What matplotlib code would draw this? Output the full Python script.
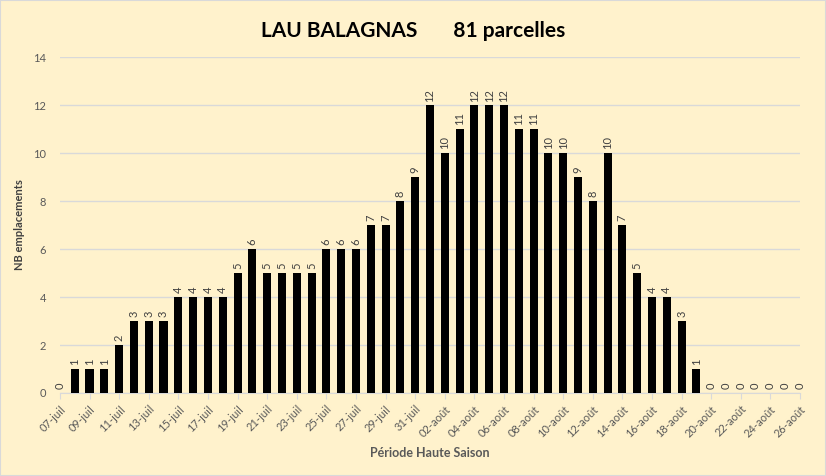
import numpy as np
import matplotlib.pyplot as plt

plt.rcParams['font.family'] = ['Lato', 'DejaVu Sans']

# one bar per day, 07-juil -> 26-août
days = ['%02d-juil' % d for d in range(7, 32)] + ['%02d-août' % d for d in range(1, 27)]
nb_emplacements = [0, 1, 1, 1, 2, 3, 3, 3, 4, 4, 4, 4, 5, 6, 5, 5, 5, 5, 6, 6, 6, 7, 7, 8, 9,
                   12, 10, 11, 12, 12, 12, 11, 11, 10, 10, 9, 8, 10, 7, 5, 4, 4, 3, 1, 0,
                   0, 0, 0, 0, 0, 0]
y_ticks = [0, 2, 4, 6, 8, 10, 12, 14]

bg = '#FFF2CC'
fig = plt.figure(figsize=(8.26, 4.76), dpi=100, facecolor=bg)
ax = fig.add_axes([0.0726, 0.1744, 0.8959, 0.7056], facecolor=bg)

x = np.arange(len(days))
bars = ax.bar(x, nb_emplacements, width=0.55, color='black', zorder=3)

for xi, v in zip(x, nb_emplacements):
    ax.text(xi, v + 0.15, str(v), rotation=90, ha='center', va='bottom',
            fontsize=8, color='#404040')

ax.set_xlim(0, len(days) - 1)
ax.set_ylim(0, 14)
ax.set_yticks(y_ticks)
ax.set_xticks(x[::2])
ax.set_xticklabels(days[::2], rotation=45, ha='right', rotation_mode='anchor')
ax.tick_params(axis='x', colors='#D9D9D9', labelcolor='#595959', labelsize=8, length=4)
ax.tick_params(axis='y', length=0, labelcolor='#595959', labelsize=8, pad=10)
ax.grid(axis='y', color='#D9D9D9', lw=1, zorder=0)
for s in ['top', 'right', 'left']:
    ax.spines[s].set_visible(False)
ax.spines['bottom'].set_color('#D9D9D9')

ax.set_ylabel('NB emplacements', fontsize=8, fontweight='bold', color='#404040', labelpad=6)
ax.set_xlabel('Période Haute Saison', fontsize=9, fontweight='bold', color='#595959', labelpad=6)

fig.text(0.5, 0.935, 'LAU BALAGNAS       81 parcelles', ha='center', va='center',
         fontsize=15, fontweight='bold', color='black')

fig.patches.append(plt.Rectangle((0, 0), 1, 1, transform=fig.transFigure, fill=False,
                                 edgecolor='#D9D9D9', lw=1.5))

fig.savefig('out.png', dpi=100, facecolor=bg)
